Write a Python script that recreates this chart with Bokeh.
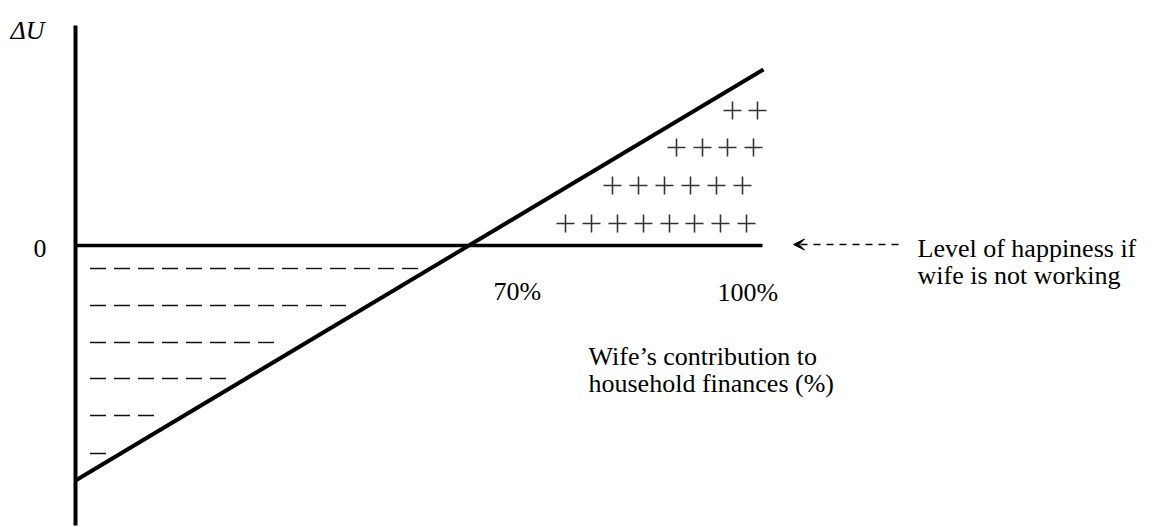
from bokeh.plotting import figure
from bokeh.models import Range1d, Arrow, VeeHead
from bokeh.core.properties import value
from bokeh.embed import file_html
from bokeh.resources import INLINE

# ---- schematic data (units: chart units, origin at axis intersection) ----
axis_x = [0, 0]
axis_y = [-280, 220]
zero_x = [0, 687]
zero_y = [0, 0]
utility_x = [0, 688]          # wife's contribution (schematic units)
utility_y = [-235, 176]       # change in utility

# negative region: minus signs per row
minus_rows_y = [-23, -60, -97, -133, -170, -208]
minus_rows_n = [14, 11, 8, 6, 3, 1]
minus_start = 22.5
minus_step = 24

# positive region: plus signs (x positions per row)
plus_rows_y = [135, 98, 60, 22]
plus_rows_x = [
    [657, 682],
    [601, 627, 652, 678],
    [537, 563, 589, 615, 641, 667],
    [490, 516, 542, 568, 594, 619, 645, 671],
]

labels = ["\u0394U", "0", "70%", "100%",
          "Wife\u2019s contribution to", "household finances (%)",
          "Level of happiness if", "wife is not working"]
labels_x = [-65, -42, 418, 642, 513, 513, 842, 842]
labels_y = [215, -3, -46, -47, -111, -138, -3, -30]
labels_style = ["italic", "normal", "normal", "normal", "normal", "normal", "normal", "normal"]

arrow_from = (823, 1)
arrow_to = (718, 1)

FONT = value("Liberation Serif")

p = figure(width=1155, height=527, output_backend="svg", toolbar_location=None,
           x_range=Range1d(-75, 1080), y_range=Range1d(-282, 245),
           x_axis_type=None, y_axis_type=None, min_border=0,
           background_fill_color="white", border_fill_color="white")
p.outline_line_color = None
p.grid.visible = False

p.line(axis_x, axis_y, line_color="black", line_width=4)
p.line(zero_x, zero_y, line_color="black", line_width=3.5)
p.line(utility_x, utility_y, line_color="black", line_width=4)

mx, my = [], []
for yv, n in zip(minus_rows_y, minus_rows_n):
    for i in range(n):
        mx.append(minus_start + i * minus_step)
        my.append(yv)
p.scatter(mx, my, marker="dash", size=16, line_color="#111111", line_width=1.4)

px, py = [], []
for yv, xs in zip(plus_rows_y, plus_rows_x):
    for xv in xs:
        px.append(xv)
        py.append(yv)
p.scatter(px, py, marker="cross", size=18, line_color="#333333", line_width=1.6)

for style in ["normal", "italic"]:
    idx = [i for i, s in enumerate(labels_style) if s == style]
    p.text([labels_x[i] for i in idx], [labels_y[i] for i in idx],
           text=[labels[i] for i in idx],
           text_font=FONT, text_font_size="26px", text_font_style=style,
           text_align="left", text_baseline="alphabetic", text_color="black")

p.add_layout(Arrow(x_start=arrow_from[0], y_start=arrow_from[1],
                   x_end=arrow_to[0], y_end=arrow_to[1],
                   line_color="black", line_width=1.5, line_dash="7 6",
                   end=VeeHead(size=11, fill_color="black", line_color="black", line_width=1)))

open("out.html", "w").write(file_html(p, INLINE))
